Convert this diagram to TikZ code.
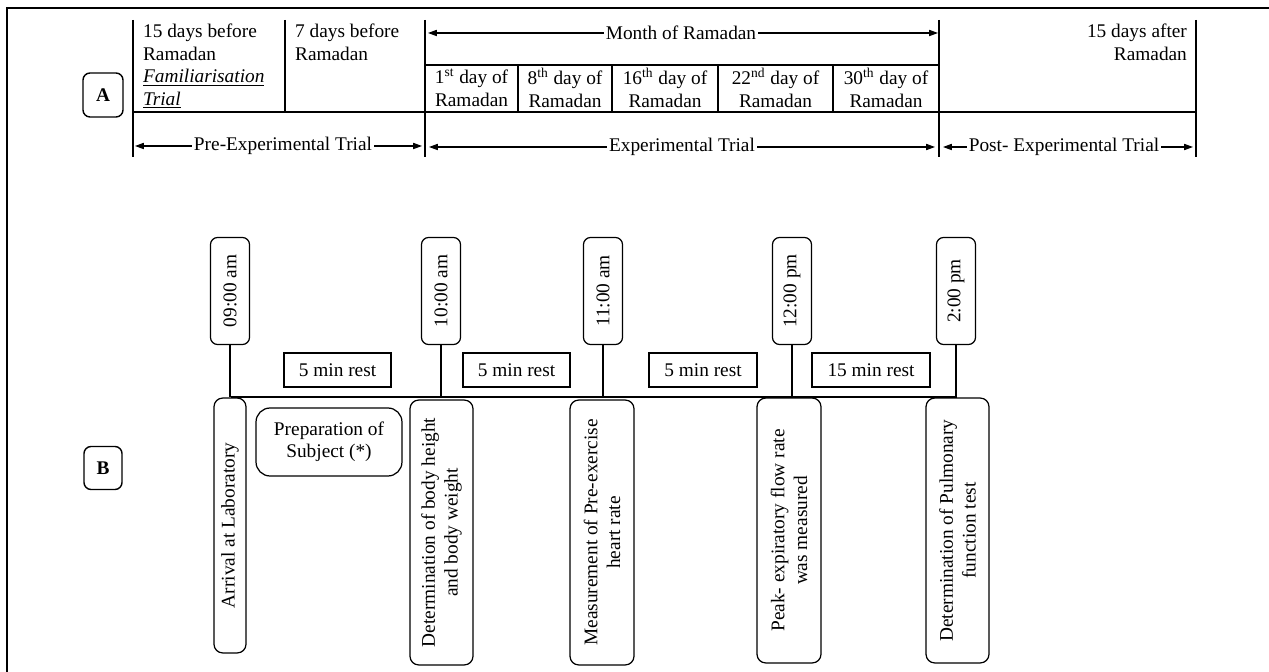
\documentclass[tikz,border=0pt]{standalone}
\usepackage{fontspec}
\setmainfont{Liberation Serif}
\usepackage{tikz}
\usetikzlibrary{arrows.meta, calc}

\begin{document}
\begin{tikzpicture}[x=0.02cm, y=-0.02cm,
    font=\fontsize{11}{12.8}\selectfont,
    every node/.style={inner sep=1pt},
    tag/.style={draw, line width=0.8pt, rounded corners=4pt, font=\fontsize{11}{12.8}\selectfont\bfseries},
    timebox/.style={draw, line width=0.7pt, rounded corners=4pt, rotate=90, minimum width=2.14cm, minimum height=0.78cm},
    stepbox/.style={draw, line width=0.7pt, rounded corners=5pt, rotate=90, align=center, font=\fontsize{11}{13}\selectfont},
    restbox/.style={draw, line width=0.8pt, minimum height=0.68cm},
    arr/.style={-{Triangle[length=5pt, width=3.5pt]}, line width=0.6pt}]
    \useasboundingbox (0,0) rectangle (1269,672);

    % 外框 (只有上边和左边)
    \draw[line width=1.2pt] (7,672) -- (7,8) -- (1269,8);

    % 1. A 部分: 时间表格
    \draw[line width=0.6pt] (133,20) -- (133,157)
        (285,20) -- (285,112)
        (425,20) -- (425,157)
        (939,20) -- (939,157)
        (1196,20) -- (1196,157)
        (425,65) -- (939,65)
        (133,112) -- (1196,112);
    \foreach \x in {518,612,718,833}
        \draw[line width=0.6pt] (\x,65) -- (\x,112);

    \node[anchor=north west, align=left] (pre15) at (141,22) {15 days before\\Ramadan\\\underline{\textit{Familiarisation}}\\\underline{\textit{Trial}}};
    \node[anchor=north west, align=left] (pre7) at (293,22) {7 days before\\Ramadan};
    \node[anchor=north east, align=right] (post15) at (1189,22) {15 days after\\Ramadan};

    % 斋月中的五天
    \foreach \cx/\n/\s [count=\i] in {471.5/1/st, 565/8/th, 665/16/th, 775.5/22/nd, 886/30/th}
        \node[align=center] (day\i) at (\cx,88) {\n\textsuperscript{\s} day of\\Ramadan};

    % 双向箭头标注
    \node (month) at (681,33) {Month of Ramadan};
    \coordinate (month-l) at (428,33);
    \coordinate (month-r) at (938,33);
    \node (preT) at (283,146) {Pre-Experimental Trial};
    \coordinate (preT-l) at (135,146);
    \coordinate (preT-r) at (422,146);
    \node (expT) at (682,147) {Experimental Trial};
    \coordinate (expT-l) at (429,147);
    \coordinate (expT-r) at (935,147);
    \node (postT) at (1064,147) {Post- Experimental Trial};
    \coordinate (postT-l) at (943,147);
    \coordinate (postT-r) at (1193,147);
    \foreach \n in {month, preT, expT, postT} {
        \draw[arr] (\n.west) -- (\n-l);
        \draw[arr] (\n.east) -- (\n-r);
    }

    % 2. B 部分: 当天流程
    \node[tag, minimum width=0.8cm, minimum height=0.88cm] (tagA) at (103,95) {A};
    \node[tag, minimum width=0.76cm, minimum height=0.86cm] (tagB) at (103,468) {B};

    \coordinate (bar-l) at (231,397);
    \coordinate (bar-r) at (957,397);
    \draw[line width=0.7pt] (bar-l) -- (bar-r);

    % 时间点 (竖排), 用竖线连到主轴
    \foreach \cx/\tm [count=\i] in {230/09:00 am, 441/10:00 am, 603/11:00 am, 792/12:00 pm, 956/2:00 pm} {
        \node[timebox] (time\i) at (\cx,291) {\tm};
        \draw[line width=0.7pt] (time\i.west) -- (time\i.west |- bar-l);
    }

    % 各步骤
    \node[stepbox, minimum width=5.1cm, minimum height=0.64cm] (arrive) at (230,525.5) {Arrival at Laboratory};
    \node[stepbox, minimum width=5.3cm, minimum height=1.26cm] (body) at (441.5,532.5) {Determination of body height\\and body weight};
    \node[stepbox, minimum width=5.3cm, minimum height=1.28cm] (heart) at (602,532.5) {Measurement of Pre-exercise\\heart rate};
    \node[stepbox, minimum width=5.3cm, minimum height=1.28cm] (peak) at (789,530.5) {Peak- expiratory flow rate\\was measured};
    \node[stepbox, minimum width=5.3cm, minimum height=1.26cm] (lung) at (957.5,530.5) {Determination of Pulmonary\\function test};
    \node[draw, line width=0.7pt, rounded corners=8pt, align=center, minimum width=2.92cm, minimum height=1.36cm] (prep) at (329,442) {Preparation of\\Subject (*)};

    % 休息时间
    \foreach \cx/\w/\r [count=\i] in {337.5/2.14cm/5, 516.5/2.14cm/5, 703/2.16cm/5, 871/2.36cm/15}
        \node[restbox, minimum width=\w] (rest\i) at (\cx,370) {\r{} min rest};
\end{tikzpicture}
\end{document}
